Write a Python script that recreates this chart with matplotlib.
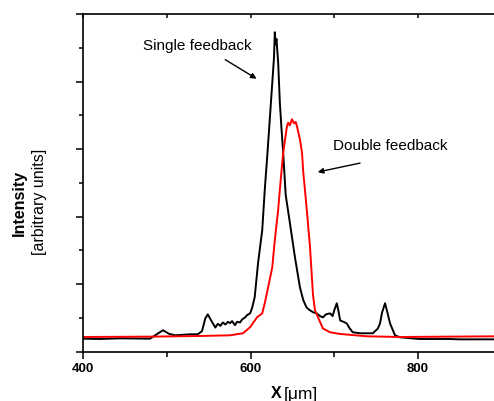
import matplotlib
matplotlib.use("Agg")
from matplotlib import pyplot as plt
from matplotlib.ticker import MultipleLocator, NullFormatter

matplotlib.rcParams.update({'font.family': ['Liberation Sans', 'DejaVu Sans'], 'font.size': 10})

# single feedback (black)
single_x = [400, 420, 444, 480, 488, 495.5, 503, 510, 528, 537, 542, 546, 549, 553, 558,
            561, 564, 567, 570, 573, 575.5, 578, 581.5, 584, 587.5, 590, 593.5, 596, 599.5,
            602, 605, 609, 614, 617, 620, 623, 626.5, 628, 629, 630, 631, 632, 633, 635, 637,
            639, 642, 647, 653, 659, 663, 667, 671, 675, 679, 683, 686.5, 690, 695, 698, 700,
            703, 705, 707, 711, 715, 718, 722, 731, 746, 752, 754.6, 757, 760.6, 763, 766.6,
            772.5, 778.5, 802, 838, 850, 891]
single_y = [0.38, 0.37, 0.39, 0.38, 0.51, 0.63, 0.52, 0.48, 0.51, 0.51, 0.60, 0.98, 1.10, 0.92, 0.71,
            0.82, 0.76, 0.86, 0.80, 0.88, 0.84, 0.90, 0.78, 0.88, 0.86, 0.95, 1.01, 1.08, 1.13,
            1.30, 1.61, 2.62, 3.60, 4.79, 5.80, 6.88, 8.15, 8.70, 9.46, 9.10, 9.26, 8.90, 8.57, 7.38, 6.60,
            5.89, 4.64, 3.81, 2.80, 1.90, 1.52, 1.30, 1.22, 1.16, 1.13, 1.05, 1.01, 1.10, 1.13, 1.05, 1.22,
            1.43, 1.20, 0.92, 0.88, 0.83, 0.70, 0.57, 0.54, 0.54, 0.68, 0.83, 1.15, 1.43, 1.20, 0.83,
            0.48, 0.42, 0.37, 0.37, 0.36, 0.36]

# double feedback (red)
double_x = [400, 480, 540, 575.5, 591, 599.5, 608, 614, 617, 621, 626, 629, 633, 635, 639,
            643.5, 645, 647, 649.5, 652, 654, 655.5, 659, 661.5, 663, 665, 667.5, 671, 673.5,
            674.6, 677, 680.6, 686.5, 695, 707, 739, 778.5, 891]
double_y = [0.43, 0.44, 0.46, 0.48, 0.54, 0.72, 1.02, 1.13, 1.43, 1.90, 2.50, 3.30, 4.20, 4.79, 5.89,
            6.67, 6.78, 6.70, 6.88, 6.76, 6.80, 6.67, 6.28, 5.89, 5.30, 4.79, 4.11, 3.10, 2.11,
            1.67, 1.22, 1.01, 0.68, 0.57, 0.52, 0.45, 0.43, 0.45]

fig = plt.figure(figsize=(4.94, 4.01), dpi=100)
ax = fig.add_axes([83/494., 1-351.5/401., 1-83/494., 337.5/401.])

ax.plot(single_x, single_y, color='black', linewidth=1.4)
ax.plot(double_x, double_y, color='red', linewidth=1.4)

ax.set_xlim(400, 890.7)
ax.set_ylim(0, 10)

ax.xaxis.set_major_locator(MultipleLocator(200))
ax.xaxis.set_minor_locator(MultipleLocator(100))
ax.yaxis.set_major_locator(MultipleLocator(2))
ax.yaxis.set_minor_locator(MultipleLocator(1))
ax.yaxis.set_major_formatter(NullFormatter())

ax.tick_params(axis='x', which='major', direction='out', length=5, width=1.1, labelsize=9.5, pad=3)
ax.tick_params(axis='x', which='minor', direction='out', length=3.5, width=1.1)
ax.tick_params(axis='y', which='major', direction='out', length=5, width=1.1)
ax.tick_params(axis='y', which='minor', direction='out', length=3, width=1.1)
ax.tick_params(axis='x', which='both', top=True)
for t in ax.xaxis.get_major_ticks() + ax.xaxis.get_minor_ticks():
    t.tick2line.set_marker(3)  # inward pointing on top
    t.tick2line.set_markersize(3)
for lbl in ax.get_xticklabels():
    lbl.set_fontweight('bold')
for s in ax.spines.values():
    s.set_linewidth(1.2)
ax.spines['right'].set_visible(False)

# annotations
ax.annotate("", xy=(610, 8.04), xytext=(567, 8.69),
            arrowprops=dict(arrowstyle='-|>', color='black', lw=1.0, mutation_scale=8))
ax.text(537, 9.05, "Single feedback", ha='center', va='center', fontsize=11)
ax.annotate("", xy=(677, 5.30), xytext=(734, 5.60),
            arrowprops=dict(arrowstyle='-|>', color='black', lw=1.0, mutation_scale=8))
ax.text(698.5, 6.09, "Double feedback", ha='left', va='center', fontsize=11)

# axis labels
fig.text(281/494., 1-394/401., "X", ha='right', va='center', fontsize=11.5, fontweight='bold')
fig.text(284/494., 1-394/401., "[\u03bcm]", ha='left', va='center', fontsize=12.5)
fig.text(19/494., 1-203/401., "Intensity", ha='center', va='center', rotation=90,
         fontsize=11.5, fontweight='bold')
fig.text(39.5/494., 1-202/401., "[arbitrary units]", ha='center', va='center', rotation=90,
         fontsize=11.5)

plt.savefig("out.png", dpi=100)
